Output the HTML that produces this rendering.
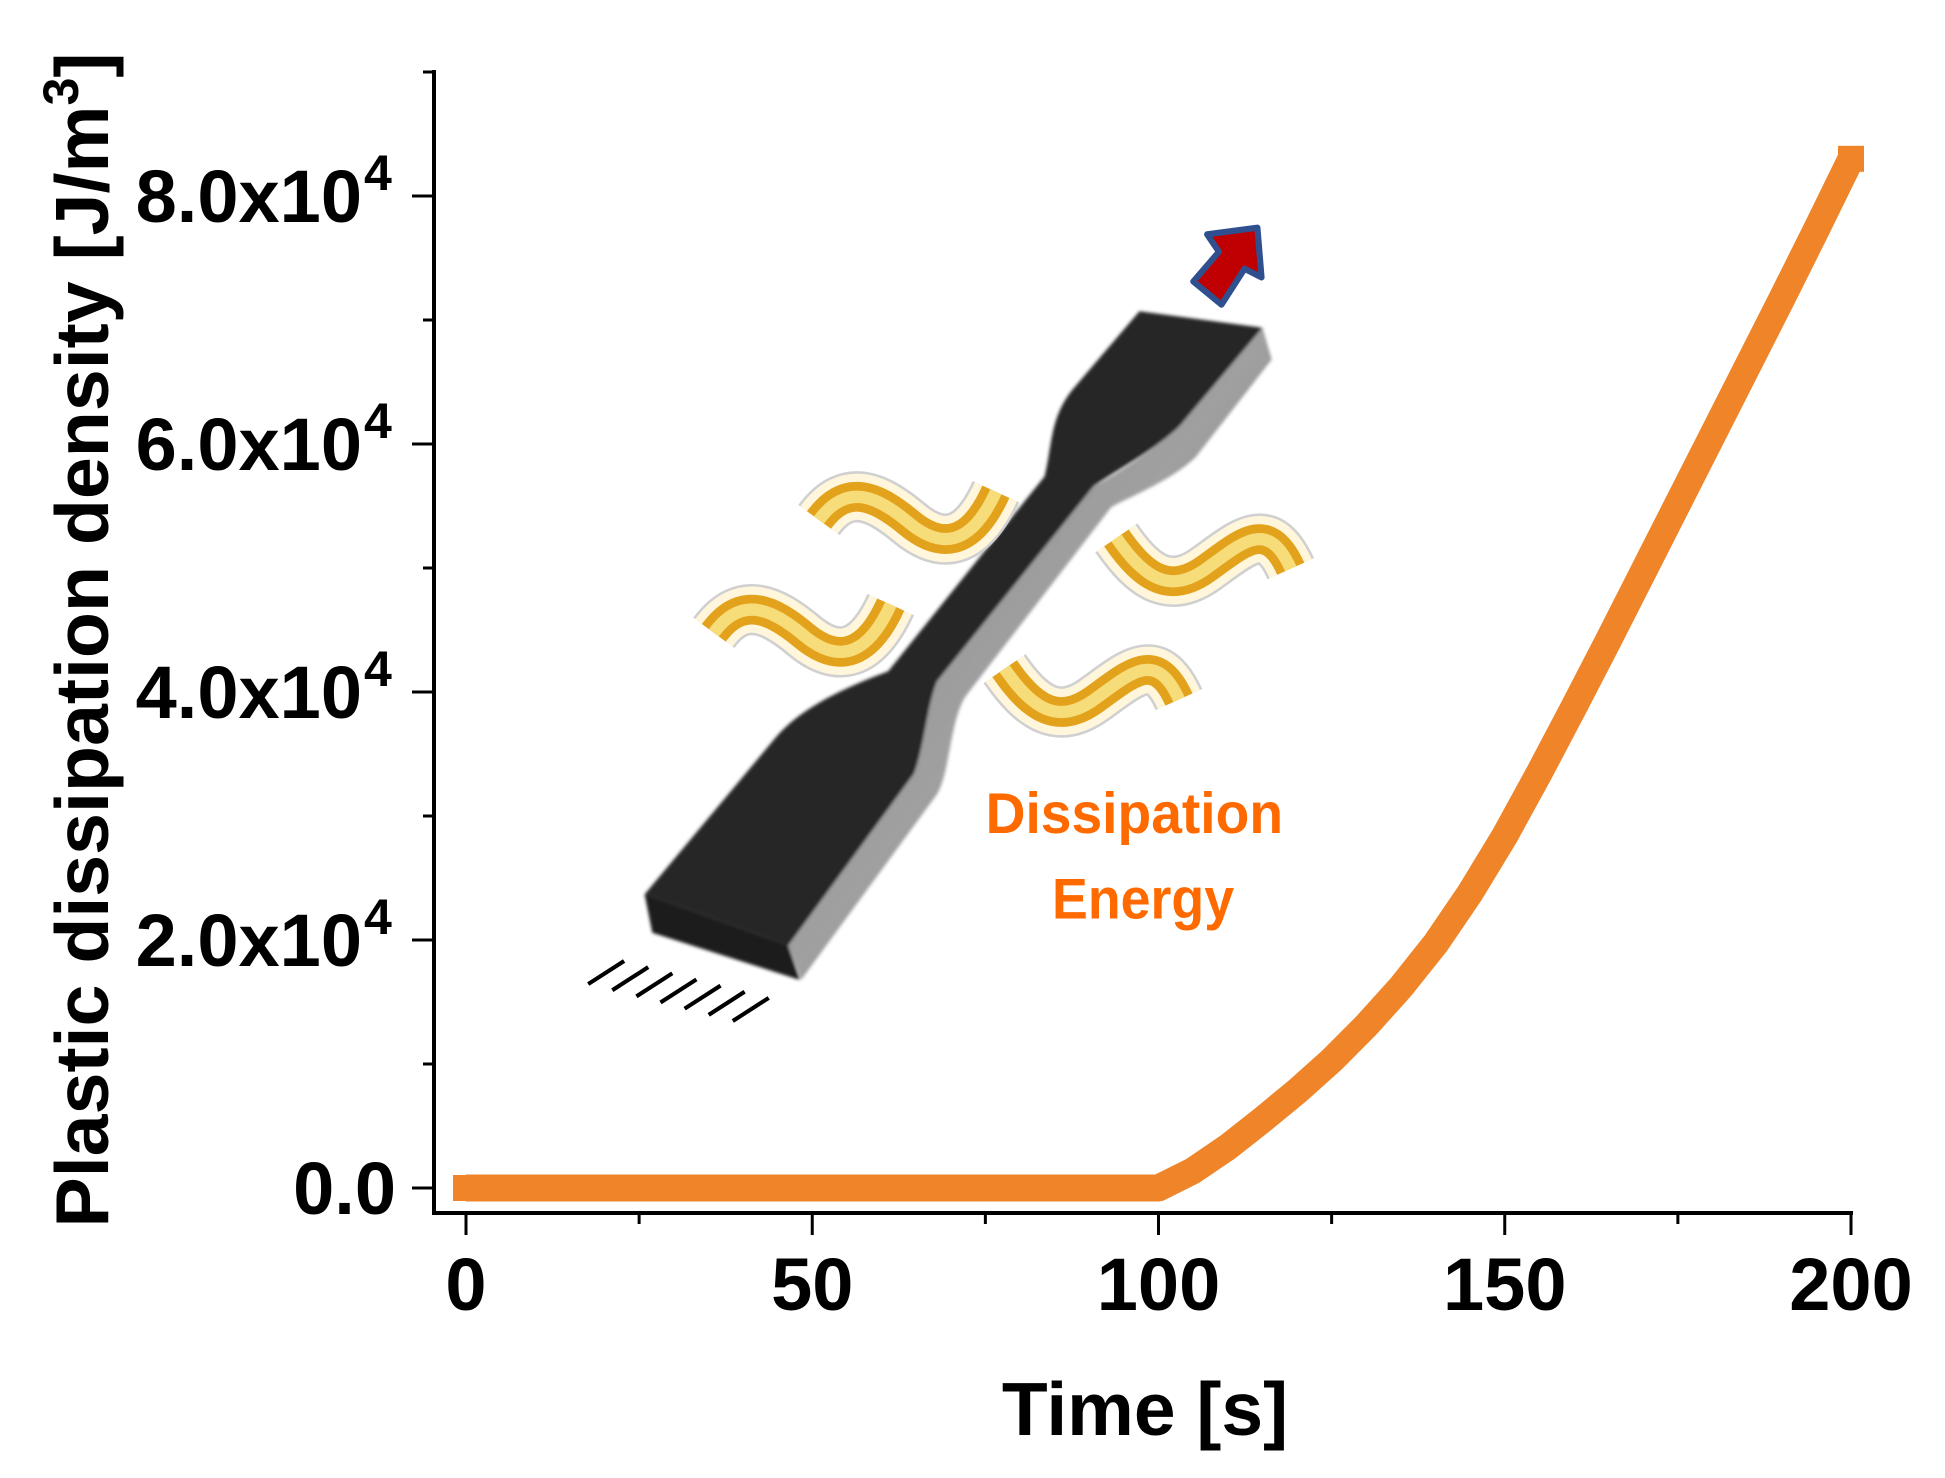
<!DOCTYPE html>
<html><head><meta charset="utf-8"><style>
html,body{margin:0;padding:0;background:#fff}
svg{display:block}
text{font-family:"Liberation Sans",Arial,sans-serif;font-weight:bold}
</style></head><body>
<svg id="chart" width="1945" height="1478" viewBox="0 0 1945 1478" xmlns="http://www.w3.org/2000/svg">
<defs>
<linearGradient id="sideGrad" x1="0" y1="0" x2="1" y2="1">
<stop offset="0" stop-color="#8a8a8a"/><stop offset="0.5" stop-color="#a0a0a0"/><stop offset="1" stop-color="#5a5a5a"/>
</linearGradient>
<filter id="soft" x="-5%" y="-5%" width="110%" height="110%"><feGaussianBlur stdDeviation="3"/></filter>
</defs>
<g id="illustration" transform="translate(560 220) scale(0.5128)">
  <g filter="url(#soft)">
  <path fill="url(#sideGrad)" d="M1370,210 L1388,272 L1240,462 C1190,510 1110,540 1075,560 L790,930 C760,980 760,1080 735,1120 L470,1482 L445,1415 L690,1080 C710,1030 715,950 735,900 L1040,520 C1060,510 1160,450 1210,400 Z"/>
  <path fill="#1c1c1c" d="M165,1315 L180,1390 L468,1482 L445,1415 Z"/>
  <path fill="#262626" d="M165,1315 L420,1010 C470,950 560,910 640,880 L945,500 C960,440 955,385 1000,330 L1130,178 L1370,210 L1210,400 C1160,450 1080,490 1040,520 L735,900 C715,950 710,1030 690,1080 L445,1415 Z"/>
  </g>
  <g fill="none" stroke-linecap="butt">
    <g>
      <path d="M505,585 C560,510 620,540 680,590 S800,640 850,530" stroke="#d0d0d0" stroke-width="100"/>
      <path d="M505,585 C560,510 620,540 680,590 S800,640 850,530" stroke="#fff6dc" stroke-width="90"/>
      <path d="M505,585 C560,510 620,540 680,590 S800,640 850,530" stroke="#e3a21c" stroke-width="58"/>
      <path d="M505,585 C560,510 620,540 680,590 S800,640 850,530" stroke="#f7dc7a" stroke-width="24"/>
    </g>
    <g transform="translate(-205 220)">
      <path d="M505,585 C560,510 620,540 680,590 S800,640 850,530" stroke="#d0d0d0" stroke-width="100"/>
      <path d="M505,585 C560,510 620,540 680,590 S800,640 850,530" stroke="#fff6dc" stroke-width="90"/>
      <path d="M505,585 C560,510 620,540 680,590 S800,640 850,530" stroke="#e3a21c" stroke-width="58"/>
      <path d="M505,585 C560,510 620,540 680,590 S800,640 850,530" stroke="#f7dc7a" stroke-width="24"/>
    </g>
    <g>
      <path d="M1085,620 C1140,700 1190,730 1260,680 S1380,580 1425,680" stroke="#d0d0d0" stroke-width="100"/>
      <path d="M1085,620 C1140,700 1190,730 1260,680 S1380,580 1425,680" stroke="#fff6dc" stroke-width="90"/>
      <path d="M1085,620 C1140,700 1190,730 1260,680 S1380,580 1425,680" stroke="#e3a21c" stroke-width="58"/>
      <path d="M1085,620 C1140,700 1190,730 1260,680 S1380,580 1425,680" stroke="#f7dc7a" stroke-width="24"/>
    </g>
    <g transform="translate(-218 255)">
      <path d="M1085,620 C1140,700 1190,730 1260,680 S1380,580 1425,680" stroke="#d0d0d0" stroke-width="100"/>
      <path d="M1085,620 C1140,700 1190,730 1260,680 S1380,580 1425,680" stroke="#fff6dc" stroke-width="90"/>
      <path d="M1085,620 C1140,700 1190,730 1260,680 S1380,580 1425,680" stroke="#e3a21c" stroke-width="58"/>
      <path d="M1085,620 C1140,700 1190,730 1260,680 S1380,580 1425,680" stroke="#f7dc7a" stroke-width="24"/>
    </g>
  </g>
  <polygon points="1360,15 1368,112 1335,95 1290,165 1235,120 1285,62 1262,28" fill="#c00000" stroke="#2f4f8f" stroke-width="12" stroke-linejoin="round"/>
  <g stroke="#000" stroke-width="8">
    <line x1="55" y1="1490" x2="125" y2="1445"/>
    <line x1="102" y1="1502" x2="172" y2="1457"/>
    <line x1="149" y1="1514" x2="219" y2="1469"/>
    <line x1="196" y1="1526" x2="266" y2="1481"/>
    <line x1="243" y1="1538" x2="313" y2="1493"/>
    <line x1="290" y1="1550" x2="360" y2="1505"/>
    <line x1="337" y1="1562" x2="407" y2="1517"/>
  </g>
  <text x="1120" y="1195" text-anchor="middle" font-size="112" fill="#ff6a00" textLength="580" lengthAdjust="spacingAndGlyphs">Dissipation</text>
  <text x="1137" y="1362" text-anchor="middle" font-size="112" fill="#ff6a00" textLength="355" lengthAdjust="spacingAndGlyphs">Energy</text>
</g>
<g id="axes"></g>
<g id="series"></g>
</svg>
<script>
var times = [0,5,10,15,20,25,30,35,40,45,50,55,60,65,70,75,80,85,90,95,100,105,110,115,120,125,130,135,140,145,150,155,160,165,170,175,180,185,190,195,200];
var dissipation = [0,0,0,0,0,0,0,0,0,0,0,0,0,0,0,0,0,0,0,0,0,1400,3300,5500,7800,10300,13100,16200,19700,23800,28400,33500,38800,44200,49700,55200,60700,66200,71700,77300,83000];
var xTickValues = [0,50,100,150,200];
var xTickLabels = ["0","50","100","150","200"];
var xMinorTicks = [25,75,125,175];
var yTickValues = [0,20000,40000,60000,80000];
var yTickLabels = ["0.0","2.0x10","4.0x10","6.0x10","8.0x10"];
var yTickSups = ["","4","4","4","4"];
var yMinorTicks = [10000,30000,50000,70000,90000];

var NS = "http://www.w3.org/2000/svg";
function xs(t){ return 466 + t * (1851 - 466) / 200; }
function ys(v){ return 1188 - v * (1188 - 196) / 80000; }
function mk(tag, attrs, parent){ var e = document.createElementNS(NS, tag); for (var k in attrs) e.setAttribute(k, attrs[k]); parent.appendChild(e); return e; }

var axes = document.getElementById('axes');
var yAxis = mk('line', {x1:434, y1:70, x2:434, y2:1215, stroke:'#000', 'stroke-width':4}, axes);


var xAxis = mk('line', {x1:432, y1:1213, x2:1853, y2:1213, stroke:'#000', 'stroke-width':4}, axes);



xTickValues.forEach(function(t, i){
  var tk = mk('line', {x1:xs(t), y1:1213, x2:xs(t), y2:1235, stroke:'#000', 'stroke-width':3}, axes);
  
  
  var lb = mk('text', {x:xs(t), y:1310, 'text-anchor':'middle', 'font-size':74, fill:'#000'}, axes);
  lb.textContent = xTickLabels[i];
  
  
});
xMinorTicks.forEach(function(t){
  var tk = mk('line', {x1:xs(t), y1:1213, x2:xs(t), y2:1224, stroke:'#000', 'stroke-width':3}, axes);
  
  
});
yTickValues.forEach(function(v, i){
  var tk = mk('line', {x1:412, y1:ys(v), x2:434, y2:ys(v), stroke:'#000', 'stroke-width':3}, axes);
  
  
  var lb = mk('text', {x: yTickSups[i] ? 362 : 396, y:ys(v) + 26, 'text-anchor':'end', 'font-size':74, fill:'#000'}, axes);
  lb.textContent = yTickLabels[i];
  
  
  if (yTickSups[i]) {
    var sp = mk('text', {x:364, y:ys(v) - 6, 'text-anchor':'start', 'font-size':50, fill:'#000'}, axes);
    sp.textContent = yTickSups[i];
    
    
  }
});
yMinorTicks.forEach(function(v){
  var tk = mk('line', {x1:423, y1:ys(v), x2:434, y2:ys(v), stroke:'#000', 'stroke-width':3}, axes);
  
  
});

var xt = mk('text', {x:1145, y:1435, 'text-anchor':'middle', 'font-size':75, fill:'#000'}, axes);
xt.textContent = 'Time [s]';



var yt = mk('text', {x:0, y:0, 'text-anchor':'middle', 'font-size':75, fill:'#000', transform:'translate(108 640) rotate(-90)', textLength:1175, lengthAdjust:'spacingAndGlyphs'}, axes);


var t1 = mk('tspan', {}, yt); t1.textContent = 'Plastic dissipation density [J/m';
var t2 = mk('tspan', {dy:-30, 'font-size':50}, yt); t2.textContent = '3';
var t3 = mk('tspan', {dy:30}, yt); t3.textContent = ']';

var series = document.getElementById('series');
var pts = times.map(function(t, i){ return xs(t) + ',' + ys(dissipation[i]); }).join(' ');
var pl = mk('polyline', {points:pts, fill:'none', stroke:'#ef8429', 'stroke-width':27, 'stroke-linecap':'butt', 'stroke-linejoin':'round'}, series);


var cap0 = mk('rect', {x:xs(times[0]) - 13, y:ys(dissipation[0]) - 13, width:26, height:26, fill:'#ef8429'}, series);


var capN = mk('rect', {x:xs(times[times.length-1]) - 13, y:ys(dissipation[dissipation.length-1]) - 13, width:26, height:26, fill:'#ef8429'}, series);


</script>
</body></html>
